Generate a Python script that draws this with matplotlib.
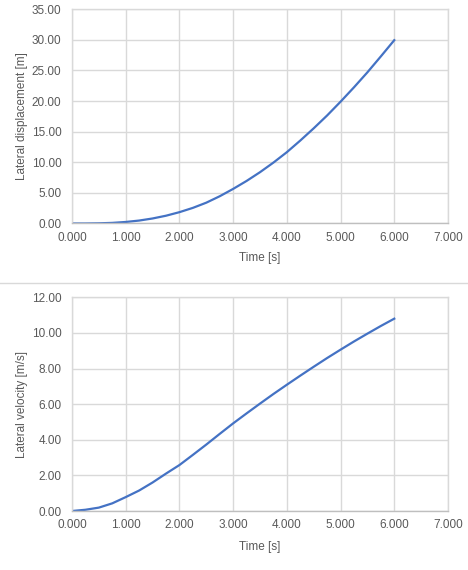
import matplotlib
matplotlib.use("Agg")
import matplotlib.pyplot as plt
from matplotlib.lines import Line2D
from matplotlib.ticker import MultipleLocator, FormatStrFormatter

# time samples [s]
time_s = [0.0, 0.25, 0.5, 0.75, 1.0, 1.25, 1.5, 1.75, 2.0, 2.25, 2.5, 2.75, 3.0,
          3.25, 3.5, 3.75, 4.0, 4.25, 4.5, 4.75, 5.0, 5.25, 5.5, 5.75, 6.0]
# lateral displacement [m]
lat_disp = [0.0, 0.0, 0.03, 0.1, 0.25, 0.48, 0.82, 1.27, 1.85, 2.55, 3.4, 4.45, 5.65,
            6.95, 8.38, 9.95, 11.65, 13.55, 15.55, 17.65, 19.9, 22.25, 24.7, 27.3, 29.95]
# lateral velocity [m/s]
lat_vel = [0.0, 0.07, 0.19, 0.43, 0.78, 1.15, 1.6, 2.1, 2.58, 3.15, 3.73, 4.33, 4.92,
           5.48, 6.03, 6.57, 7.09, 7.6, 8.1, 8.59, 9.06, 9.52, 9.96, 10.39, 10.8]

plt.rcParams['font.family'] = ['Liberation Sans', 'DejaVu Sans']
TXT = '#595959'
GRID = '#d9d9d9'
BLUE = '#4472c4'
FS = 8.5

fig = plt.figure(figsize=(4.68, 5.7), dpi=100)

def setup(ax, ymax, ystep, ylabel, xlab_y):
    ax.set_xlim(0, 7)
    ax.set_ylim(0, ymax)
    ax.xaxis.set_major_locator(MultipleLocator(1))
    ax.yaxis.set_major_locator(MultipleLocator(ystep))
    ax.xaxis.set_major_formatter(FormatStrFormatter('%.3f'))
    ax.yaxis.set_major_formatter(FormatStrFormatter('%.2f'))
    ax.grid(True, color=GRID, linewidth=1)
    ax.set_axisbelow(True)
    for s in ax.spines.values():
        s.set_color(GRID)
        s.set_linewidth(1)
    ax.spines['bottom'].set_color('#bfbfbf')
    ax.tick_params(length=0, labelsize=FS, colors=TXT)
    ax.tick_params(axis='x', pad=6)
    ax.tick_params(axis='y', pad=7.5)
    ax.set_xlabel('Time [s]', fontsize=FS, color=TXT)
    ax.set_ylabel(ylabel, fontsize=FS, color=TXT)
    ax.xaxis.set_label_coords(0.5, xlab_y)
    ax.yaxis.set_label_coords(-0.133, 0.5)
    ax.xaxis.label.set_va('center')
    ax.yaxis.label.set_va('center')

ax1 = fig.add_axes([0.1538, 0.6079, 0.8034, 0.3758])
ax1.plot(time_s, lat_disp, color=BLUE, linewidth=1.6)
setup(ax1, 35, 5, 'Lateral displacement [m]', -0.161)

ax2 = fig.add_axes([0.1538, 0.1035, 0.8034, 0.3749])
ax2.plot(time_s, lat_vel, color=BLUE, linewidth=1.6)
setup(ax2, 12, 2, 'Lateral velocity [m/s]', -0.167)

# border of the second chart
fig.add_artist(Line2D([0, 1], [0.5035, 0.5035], transform=fig.transFigure,
                      color=GRID, linewidth=1))

fig.savefig('out.png', dpi=100)
